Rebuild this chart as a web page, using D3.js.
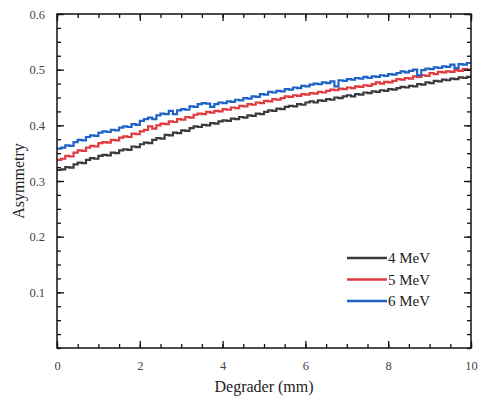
<!DOCTYPE html>
<html>
<head>
<meta charset="utf-8">
<script src="https://cdn.jsdelivr.net/npm/d3@7"></script>
<style>
  html, body { margin: 0; padding: 0; background: #fff; }
  svg { display: block; }
</style>
</head>
<body>
<svg id="chart" width="484" height="406"></svg>
<script>
// Degrader thickness bins: 0.1 mm wide, 0 .. 10 mm
const binStart = 0;
const binWidth = 0.1;

const series4MeV = [
  0.320, 0.321, 0.325, 0.324, 0.330, 0.333, 0.332, 0.338, 0.341, 0.340,
  0.345, 0.347, 0.346, 0.351, 0.350, 0.355, 0.357, 0.356, 0.362, 0.361,
  0.366, 0.369, 0.368, 0.374, 0.377, 0.376, 0.383, 0.382, 0.387, 0.386,
  0.391, 0.390, 0.395, 0.398, 0.397, 0.401, 0.400, 0.404, 0.403, 0.407,
  0.409, 0.408, 0.412, 0.411, 0.415, 0.414, 0.418, 0.417, 0.421, 0.420,
  0.424, 0.427, 0.426, 0.430, 0.429, 0.433, 0.435, 0.434, 0.438, 0.437,
  0.441, 0.443, 0.441, 0.445, 0.444, 0.447, 0.446, 0.450, 0.449, 0.452,
  0.454, 0.452, 0.456, 0.455, 0.459, 0.458, 0.461, 0.460, 0.463, 0.462,
  0.465, 0.464, 0.467, 0.469, 0.468, 0.471, 0.470, 0.474, 0.473, 0.477,
  0.476, 0.480, 0.479, 0.482, 0.481, 0.484, 0.483, 0.486, 0.485, 0.487
];

const series5MeV = [
  0.338, 0.340, 0.345, 0.344, 0.351, 0.355, 0.354, 0.360, 0.363, 0.362,
  0.368, 0.370, 0.369, 0.374, 0.373, 0.378, 0.380, 0.379, 0.385, 0.384,
  0.389, 0.392, 0.398, 0.394, 0.400, 0.403, 0.402, 0.407, 0.406, 0.411,
  0.410, 0.415, 0.414, 0.419, 0.421, 0.420, 0.424, 0.423, 0.426, 0.425,
  0.429, 0.428, 0.432, 0.431, 0.435, 0.434, 0.438, 0.437, 0.441, 0.440,
  0.444, 0.443, 0.447, 0.446, 0.449, 0.452, 0.451, 0.454, 0.453, 0.456,
  0.455, 0.458, 0.457, 0.460, 0.459, 0.462, 0.464, 0.463, 0.466, 0.465,
  0.468, 0.467, 0.470, 0.469, 0.472, 0.471, 0.474, 0.477, 0.475, 0.478,
  0.477, 0.480, 0.483, 0.482, 0.485, 0.484, 0.488, 0.487, 0.490, 0.489,
  0.494, 0.492, 0.496, 0.495, 0.497, 0.496, 0.499, 0.498, 0.501, 0.500
];

const series6MeV = [
  0.358, 0.360, 0.364, 0.363, 0.370, 0.374, 0.373, 0.379, 0.382, 0.381,
  0.387, 0.389, 0.388, 0.392, 0.391, 0.396, 0.398, 0.397, 0.402, 0.401,
  0.408, 0.411, 0.414, 0.411, 0.418, 0.421, 0.420, 0.426, 0.420, 0.427,
  0.429, 0.428, 0.434, 0.433, 0.438, 0.440, 0.439, 0.433, 0.438, 0.441,
  0.440, 0.443, 0.442, 0.446, 0.445, 0.449, 0.448, 0.452, 0.451, 0.456,
  0.455, 0.460, 0.459, 0.462, 0.461, 0.465, 0.464, 0.468, 0.467, 0.471,
  0.470, 0.473, 0.475, 0.474, 0.477, 0.476, 0.479, 0.470, 0.481, 0.480,
  0.483, 0.482, 0.485, 0.484, 0.487, 0.485, 0.488, 0.487, 0.490, 0.489,
  0.492, 0.491, 0.494, 0.497, 0.495, 0.498, 0.500, 0.490, 0.499, 0.502,
  0.501, 0.504, 0.503, 0.506, 0.505, 0.509, 0.503, 0.510, 0.509, 0.512
];

const seriesNames = ["4 MeV", "5 MeV", "6 MeV"];
const seriesColors = ["#3b3b3b", "#e0393e", "#1f63c8"];
const xTicks = [0, 2, 4, 6, 8, 10];
const yTicks = [0.1, 0.2, 0.3, 0.4, 0.5, 0.6];

const svg = d3.select("#chart");
const plotL = 57, plotR = 471, plotT = 14, plotB = 348;

const x = d3.scaleLinear().domain([0, 10]).range([plotL, plotR]);
const y = d3.scaleLinear().domain([0, 0.6]).range([plotB, plotT]);

const font = "'Liberation Serif', 'Times New Roman', serif";

// step lines
const allSeries = [series4MeV, series5MeV, series6MeV];
const line = d3.line()
  .x(d => x(d[0]))
  .y(d => y(d[1]))
  .curve(d3.curveStepAfter);

allSeries.forEach((vals, k) => {
  const pts = vals.map((v, i) => [binStart + i * binWidth, v]);
  pts.push([binStart + vals.length * binWidth, vals[vals.length - 1]]);
  svg.append("path")
    .attr("d", line(pts))
    .attr("fill", "none")
    .attr("stroke", seriesColors[k])
    .attr("stroke-width", 2.2)
    .attr("stroke-linejoin", "miter");
});

// frame with inward ticks on all sides
const tickColor = "#111";
const xMinor = d3.range(0, 10.001, 0.5);
const yMinor = d3.range(0, 0.6001, 0.025);

function addAxis(axisGen, transform) {
  const g = svg.append("g").attr("transform", transform).call(axisGen);
  g.select(".domain").remove();
  g.selectAll("line").attr("stroke", tickColor).attr("stroke-width", 1.3);
  return g;
}

// bottom
addAxis(d3.axisBottom(x).tickValues(xMinor).tickSize(-4).tickFormat(""), `translate(0,${plotB})`);
const gx = addAxis(d3.axisBottom(x).tickValues(xTicks).tickSize(-7).tickPadding(13).tickFormat(d3.format("d")), `translate(0,${plotB})`);
gx.selectAll("text").attr("font-family", font).attr("font-size", 12.5).attr("fill", "#444");
// top
addAxis(d3.axisTop(x).tickValues(xMinor).tickSize(-4).tickFormat(""), `translate(0,${plotT})`);
addAxis(d3.axisTop(x).tickValues(xTicks).tickSize(-7).tickFormat(""), `translate(0,${plotT})`);
// left
addAxis(d3.axisLeft(y).tickValues(yMinor).tickSize(-4).tickFormat(""), `translate(${plotL},0)`);
const gy = addAxis(d3.axisLeft(y).tickValues(yTicks).tickSize(-7).tickPadding(12).tickFormat(d3.format(".1f")), `translate(${plotL},0)`);
gy.selectAll("text").attr("font-family", font).attr("font-size", 12.5).attr("fill", "#444");
// right
addAxis(d3.axisRight(y).tickValues(yMinor).tickSize(-4).tickFormat(""), `translate(${plotR},0)`);
addAxis(d3.axisRight(y).tickValues(yTicks).tickSize(-7).tickFormat(""), `translate(${plotR},0)`);

svg.append("rect")
  .attr("x", plotL).attr("y", plotT)
  .attr("width", plotR - plotL).attr("height", plotB - plotT)
  .attr("fill", "none").attr("stroke", tickColor).attr("stroke-width", 1.5);

// axis titles
svg.append("text")
  .attr("x", (plotL + plotR) / 2).attr("y", 392)
  .attr("text-anchor", "middle")
  .attr("font-family", font).attr("font-size", 16).attr("fill", "#222")
  .text("Degrader (mm)");

svg.append("text")
  .attr("transform", `translate(24,${(plotT + plotB) / 2}) rotate(-90)`)
  .attr("text-anchor", "middle")
  .attr("font-family", font).attr("font-size", 16).attr("fill", "#222")
  .text("Asymmetry");

// legend
const legend = svg.append("g").attr("transform", "translate(347,258)");
seriesNames.forEach((name, k) => {
  const row = legend.append("g").attr("transform", `translate(0,${k * 21.5})`);
  row.append("line")
    .attr("x1", 0).attr("x2", 40).attr("y1", 0).attr("y2", 0)
    .attr("stroke", seriesColors[k]).attr("stroke-width", 2.5);
  row.append("text")
    .attr("x", 41).attr("y", 5)
    .attr("font-family", font).attr("font-size", 15).attr("fill", "#222")
    .text(name);
});
</script>
</body>
</html>
